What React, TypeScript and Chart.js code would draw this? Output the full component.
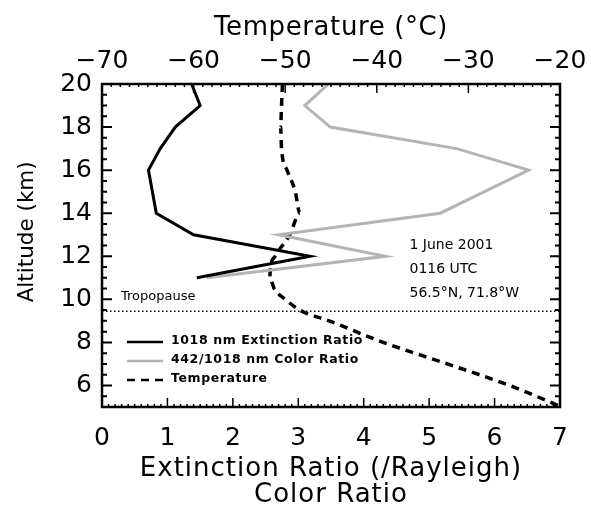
import React, { useEffect, useRef } from 'react';
import { Chart, registerables } from 'chart.js';

Chart.register(...registerables);

// ---- Data ----
const profileAltitudes = [20, 19, 18, 17, 16, 14, 13, 12, 11];
const extinctionRatio = [1.37, 1.5, 1.12, 0.89, 0.71, 0.83, 1.4, 3.18, 1.45];
const colorRatio = [3.46, 3.1, 3.49, 5.42, 6.52, 5.17, 2.7, 4.33, 1.6];

const temperatureAltitudes = [20, 19, 18, 17, 16, 15, 14, 13, 12, 11.5, 11, 10.5, 10, 9.5, 9, 8, 7, 6, 5];
const temperatureC = [-50.3, -50.4, -50.5, -50.4, -49.8, -48.9, -48.4, -49.5, -51.1, -51.6, -51.7, -51.2, -50.0, -48.4, -45.2, -39.3, -32.3, -25.5, -19.8];

const tropopauseAltitude = 9.45;
const tropopauseSpan = [0, 7];

const ratioTicks = [0, 1, 2, 3, 4, 5, 6, 7];
const temperatureTicks = [-70, -60, -50, -40, -30, -20];
const altitudeTicks = [6, 8, 10, 12, 14, 16, 18, 20];

const legendLabels = ['1018 nm Extinction Ratio', '442/1018 nm Color Ratio', 'Temperature'];
const annotationLines = ['1 June 2001', '0116 UTC', '56.5\u00B0N, 71.8\u00B0W'];

const FONT = 'DejaVu Sans';
const GRAY = '#b4b4b4';

function patchTitleSpacing(scale: any, spacing: string) {
  if (!scale || scale.__spacingPatched) return;
  const orig = scale.drawTitle;
  scale.drawTitle = function (...args: any[]) {
    const c = this.ctx;
    const prev = c.letterSpacing;
    c.letterSpacing = spacing;
    orig.apply(this, args);
    c.letterSpacing = prev || '0px';
  };
  scale.__spacingPatched = true;
}

const framePlugin = {
  id: 'idlFrame',
  afterLayout(chart: any) {
    patchTitleSpacing(chart.scales.x, '1px');
    patchTitleSpacing(chart.scales.x2, '0.6px');
  },
  afterDatasetsDraw(chart: any) {
    const { ctx, chartArea: a, scales } = chart;
    ctx.save();
    ctx.strokeStyle = '#000';
    ctx.lineWidth = 2.5;
    ctx.strokeRect(a.left, a.top, a.right - a.left, a.bottom - a.top);

    const y = scales.y;
    const x = scales.x;
    const x2 = scales.x2;
    ctx.lineWidth = 2;
    ctx.beginPath();
    // altitude ticks (both sides), minor every 0.5 km
    for (let v = y.min; v <= y.max + 1e-6; v += 0.5) {
      const p = y.getPixelForValue(v);
      const major = Math.abs(v / 2 - Math.round(v / 2)) < 1e-6;
      const len = major ? 10 : 5;
      ctx.moveTo(a.left, p); ctx.lineTo(a.left + len, p);
      ctx.moveTo(a.right, p); ctx.lineTo(a.right - len, p);
    }
    ctx.stroke();
    // bottom axis ticks
    ctx.beginPath();
    ctx.lineWidth = 1.5;
    for (let i = 0; i <= 70; i++) {
      const v = i / 10;
      const p = x.getPixelForValue(v);
      const len = i % 10 === 0 ? 9 : 3;
      ctx.moveTo(p, a.bottom); ctx.lineTo(p, a.bottom - len);
    }
    // top axis ticks
    for (let v = -70; v <= -20; v += 1) {
      const p = x2.getPixelForValue(v);
      const len = v % 10 === 0 ? 9 : 3;
      ctx.moveTo(p, a.top); ctx.lineTo(p, a.top + len);
    }
    ctx.stroke();

    // Tropopause label
    ctx.fillStyle = '#000';
    ctx.font = `13px "${FONT}"`;
    ctx.textBaseline = 'middle';
    ctx.textAlign = 'left';
    ctx.fillText('Tropopause', a.left + 19, y.getPixelForValue(tropopauseAltitude) - 15);

    // annotation text
    ctx.font = `14px "${FONT}"`;
    const ax = x.getPixelForValue(4.7);
    annotationLines.forEach((t, i) => {
      ctx.fillText(t, ax, y.getPixelForValue(12.5) + i * 24);
    });

    // legend
    const lx0 = a.left + 25;
    const lx1 = a.left + 61;
    const rows = [342, 361, 380];
    const styles = [
      { color: '#000', dash: [] as number[] },
      { color: GRAY, dash: [] as number[] },
      { color: '#000', dash: [8, 6] },
    ];
    rows.forEach((ry, i) => {
      ctx.beginPath();
      ctx.setLineDash(styles[i].dash);
      ctx.strokeStyle = styles[i].color;
      ctx.lineWidth = 2.5;
      ctx.moveTo(lx0, ry); ctx.lineTo(lx1, ry);
      ctx.stroke();
      ctx.setLineDash([]);
      ctx.fillStyle = '#000';
      ctx.font = `bold 12.5px "${FONT}"`;
      ctx.letterSpacing = '0.6px';
      ctx.fillText(legendLabels[i], lx1 + 8, ry - 1);
      ctx.letterSpacing = '0px';
    });
    ctx.restore();
  },
};

export default function App() {
  const ref = useRef<HTMLCanvasElement>(null);
  useEffect(() => {
    document.body.style.margin = '0';
    const canvas = ref.current!;
    const tickFont = { family: FONT, size: 25, lineHeight: 1 };
    const titleFont = { family: FONT, size: 26, lineHeight: 1 };
    const sideTitleFont = { family: FONT, size: 21.5, lineHeight: 1 };
    const minus = (v: number) => (v < 0 ? '\u2212' + Math.abs(v) : String(v));
    const noPadH = (s: any) => { s.paddingLeft = 0; s.paddingRight = 0; };
    const chart = new Chart(canvas, {
      type: 'scatter',
      data: {
        datasets: [
          {
            label: legendLabels[0],
            data: profileAltitudes.map((h, i) => ({ x: extinctionRatio[i], y: h })),
            borderColor: '#000', borderWidth: 3, showLine: true, pointRadius: 0,
            xAxisID: 'x', yAxisID: 'y',
          },
          {
            label: legendLabels[1],
            data: profileAltitudes.map((h, i) => ({ x: colorRatio[i], y: h })),
            borderColor: GRAY, borderWidth: 3, showLine: true, pointRadius: 0,
            xAxisID: 'x', yAxisID: 'y',
          },
          {
            label: legendLabels[2],
            data: temperatureAltitudes.map((h, i) => ({ x: temperatureC[i], y: h })),
            borderColor: '#000', borderWidth: 3.5, borderDash: [8, 6], showLine: true, pointRadius: 0,
            cubicInterpolationMode: 'monotone', tension: 0.4,
            xAxisID: 'x2', yAxisID: 'y',
          },
          {
            label: 'Tropopause',
            data: tropopauseSpan.map((v) => ({ x: v, y: tropopauseAltitude })),
            borderColor: '#000', borderWidth: 1.5, borderDash: [1.5, 2.5], showLine: true, pointRadius: 0,
            xAxisID: 'x', yAxisID: 'y',
          },
        ],
      } as any,
      options: {
        animation: false,
        responsive: false,
        maintainAspectRatio: false,
        layout: { padding: { left: 0, right: 31, top: 0, bottom: 0 } },
        plugins: { legend: { display: false }, tooltip: { enabled: false } },
        scales: {
          x: {
            type: 'linear', position: 'bottom', min: 0, max: 7,
            afterBuildTicks: (s: any) => { s.ticks = ratioTicks.map((v) => ({ value: v })); },
            afterFit: (s: any) => { s.height = 105; noPadH(s); },
            ticks: { font: tickFont, color: '#000', padding: 18.5, maxRotation: 0, autoSkip: false },
            grid: { display: false, drawTicks: false },
            border: { display: false },
            title: { display: true, text: ['Extinction Ratio (/Rayleigh)', 'Color Ratio'], font: titleFont, color: '#000', padding: { top: 0, bottom: 4 } },
          },
          x2: {
            type: 'linear', position: 'top', min: -70, max: -20,
            afterBuildTicks: (s: any) => { s.ticks = temperatureTicks.map((v) => ({ value: v })); },
            afterFit: (s: any) => { s.height = 84; noPadH(s); },
            ticks: { font: tickFont, color: '#000', padding: 10, maxRotation: 0, autoSkip: false, callback: (v: any) => minus(Number(v)) },
            grid: { display: false, drawTicks: false },
            border: { display: false },
            title: { display: true, text: 'Temperature (\u00B0C)', font: titleFont, color: '#000', padding: { top: 15, bottom: 0 } },
          },
          y: {
            type: 'linear', position: 'left', min: 5, max: 20,
            afterBuildTicks: (s: any) => { s.ticks = altitudeTicks.map((v) => ({ value: v })); },
            afterFit: (s: any) => { s.width = 102; s.paddingTop = 0; s.paddingBottom = 0; },
            ticks: { font: tickFont, color: '#000', padding: 10, autoSkip: false },
            grid: { display: false, drawTicks: false },
            border: { display: false },
            title: { display: true, text: '    Altitude (km)', font: sideTitleFont, color: '#000', padding: { top: 17, bottom: 0 } },
          },
        },
      } as any,
      plugins: [framePlugin],
    });
    return () => chart.destroy();
  }, []);
  return (
    <div style={{ width: 591, height: 512, background: '#fff' }}>
      <canvas ref={ref} width={591} height={512} style={{ display: 'block' }} />
    </div>
  );
}
